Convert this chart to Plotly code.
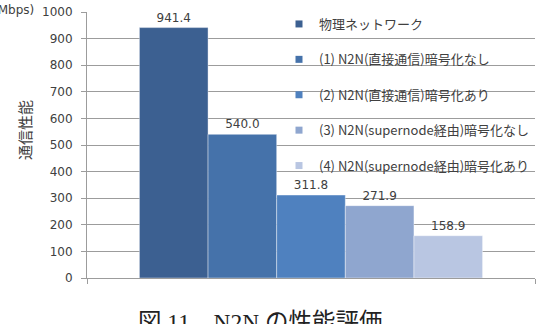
import plotly.graph_objects as go

# Data
series_names = [
    "物理ネットワーク",
    "(1) N2N(直接通信)暗号化なし",
    "(2) N2N(直接通信)暗号化あり",
    "(3) N2N(supernode経由)暗号化なし",
    "(4) N2N(supernode経由)暗号化あり",
]
series_values = [941.4, 540.0, 311.8, 271.9, 158.9]
series_colors = ["#3C6091", "#4572AA", "#4F81BF", "#8FA6CF", "#B9C6E2"]
y_ticks = [0, 100, 200, 300, 400, 500, 600, 700, 800, 900, 1000]
category = [""]

W, H = 536, 324
L, R, T, B = 87, 1, 12, 46
PW, PH = W - L - R, H - T - B


def px_x(px):
    return (px - L) / PW


def px_y(py):
    return (H - B - py) / PH


fig = go.Figure()
for name, val, col in zip(series_names, series_values, series_colors):
    fig.add_trace(go.Bar(
        x=category, y=[val], name=name, showlegend=False,
        marker=dict(color=col, line=dict(color="rgba(255,255,255,0.5)", width=0.8)),
        text=[f"{val:.1f}"], textposition="outside", cliponaxis=False,
        textfont=dict(family="DejaVu Sans", size=12, color="#404040"),
    ))
for i, (name, col) in enumerate(zip(series_names, series_colors)):
    fig.add_trace(go.Scatter(
        x=[None], y=[None], mode="markers", name=name, legendgroup=f"g{i}",
        marker=dict(symbol="square", size=7, color=col),
    ))

ann_font = dict(family="DejaVu Sans", size=12, color="#404040")
fig.update_layout(
    width=W, height=H,
    margin=dict(l=L, r=R, t=T, b=B),
    paper_bgcolor="white", plot_bgcolor="white",
    barmode="group", bargap=0.234, bargroupgap=0,
    font=dict(family="Noto Sans CJK JP", color="#404040"),
    xaxis=dict(type="category", range=[-0.5, 0.5], autorange=False,
               showticklabels=False, showline=True,
               linecolor="#9C9C9C", linewidth=1, ticks="outside",
               tickson="boundaries", ticklen=5, tickcolor="#9C9C9C",
               showgrid=False, zeroline=False),
    yaxis=dict(range=[0, 1000], tickvals=y_ticks, showline=True,
               linecolor="#9C9C9C", linewidth=1, ticks="outside", ticklen=5,
               tickcolor="#9C9C9C", gridcolor="#9C9C9C", gridwidth=1,
               zeroline=False, tickfont=ann_font, ticklabelstandoff=6),
    legend=dict(x=px_x(279), y=px_y(9), xanchor="left", yanchor="top",
                bgcolor="rgba(0,0,0,0)", traceorder="grouped",
                tracegroupgap=15.5, maxheight=320,
                font=dict(family="Noto Sans CJK JP", size=13, color="#404040")),
    annotations=[
        dict(text="(Mbps)", x=px_x(36), y=px_y(10), xref="paper", yref="paper",
             xanchor="right", yanchor="middle", showarrow=False, font=ann_font),
        dict(text="通信性能", x=px_x(24), y=px_y(130), xref="paper", yref="paper",
             xanchor="center", yanchor="middle", textangle=-90, showarrow=False,
             font=dict(family="Noto Sans CJK JP", size=15, color="#404040")),
        dict(text="図 11　N2N の性能評価", x=px_x(136), y=px_y(307), xref="paper",
             yref="paper", xanchor="left", yanchor="top", showarrow=False,
             font=dict(family="Liberation Serif, Noto Sans CJK JP", size=23.5,
                       color="#222222")),
    ],
)

fig.write_html("out.html")
